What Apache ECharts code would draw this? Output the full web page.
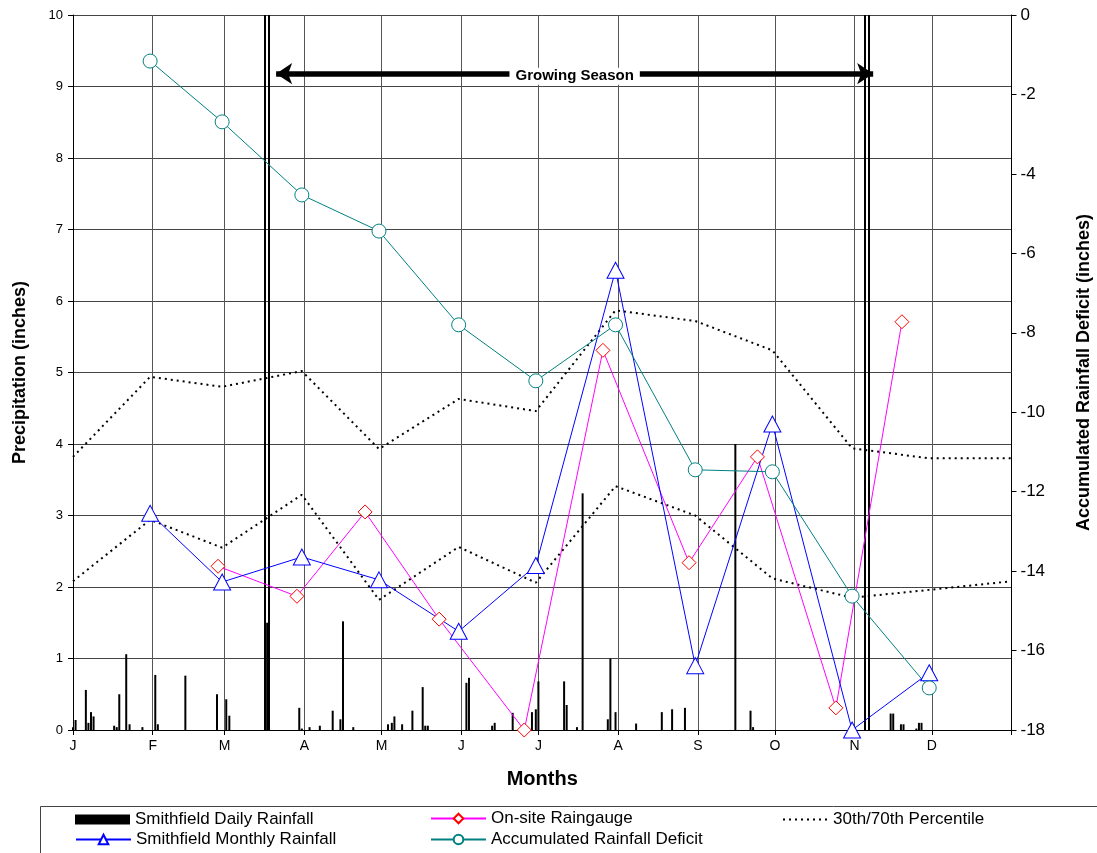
<!DOCTYPE html>
<html><head><meta charset="utf-8">
<script src="https://cdn.jsdelivr.net/npm/echarts@6/dist/echarts.min.js"></script>
<style>html,body{margin:0;padding:0;background:#fff}#c{width:1097px;height:853px}</style>
</head><body><div id="c"></div>
<script>
// ---- data ----
const monthStarts = [0,31,59,90,120,151,181,212,243,273,304,334,365];
const monthLabels = ['J','F','M','A','M','J','J','A','S','O','N','D',''];
const monthEnds = [30,58,89,119,150,180,211,242,272,303,333];
const monthlyRain = [3.03,2.07,2.42,2.1,1.38,2.3,6.43,0.9,4.28,0.0,0.8];
const deficit = [-1.16,-2.69,-4.53,-5.44,-7.8,-9.21,-7.8,-11.45,-11.5,-14.63,-16.94];
const gaugeDays = [56.4,87.1,113.6,142.4,175.5,206.1,239.6,266.2,296.7,322.4];
const gaugeVals = [2.29,1.87,3.05,1.55,0.0,5.31,2.34,3.82,0.31,5.71];
const pctDays = [0,30,58,89,119,150,180,211,242,272,303,333,365];
const p70 = [3.82,4.94,4.8,5.02,3.93,4.63,4.46,5.87,5.72,5.31,3.94,3.8,3.8];
const p30 = [2.08,2.94,2.55,3.29,1.82,2.56,2.06,3.41,3.0,2.12,1.85,1.96,2.08];
const dailyDays = [0,1,5,6,7,8,16,17,18,20.7,22,27,32,33,43.7,56,59.6,60.8,75.5,88,89,92,96,101,104,105,109,
  122.5,124,125,128,132,136,137,138,153,154,163,164,171,178.5,180,181,191,192,196,198.2,208,209,211,219,
  229,233,238,257.6,263.5,264.5,318,319,322,323,328,329,330];
const dailyVals = [0.04,0.14,0.56,0.1,0.25,0.19,0.06,0.04,0.5,1.06,0.08,0.04,0.77,0.08,0.76,0.5,0.43,0.2,1.5,0.31,0.02,0.04,0.06,0.27,0.15,1.52,0.04,
  0.08,0.1,0.19,0.08,0.27,0.6,0.06,0.06,0.66,0.73,0.06,0.1,0.24,0.25,0.29,0.68,0.68,0.35,0.04,3.31,0.15,1.0,0.25,0.09,
  0.25,0.29,0.31,4.0,0.27,0.04,0.23,0.23,0.08,0.08,0.02,0.1,0.1];
const seasonLines = [74.75,76.3,307.8,309.5];
const arrowDays = [79,311.2];
const arrowLevel = 9.18;
const arrowText = 'Growing Season';

const zip = (a,b) => a.map((v,i)=>[v,b[i]]);
const FONT = 'Liberation Sans, Arial, sans-serif';

const gridLines = monthStarts.slice(1,12).map(d => ({xAxis:d, lineStyle:{color:'#555',width:1,type:'solid'}}));
const sLines = seasonLines.map(d => ({xAxis:d, lineStyle:{color:'#000',width:2,type:'solid'}}));
const arrow = [
  {coord:[arrowDays[0],arrowLevel], symbol:'arrow', symbolSize:[16,16],
   lineStyle:{color:'#000',width:5.5,type:'solid'},
   label:{show:true, position:'middle', formatter:arrowText, fontFamily:FONT, fontWeight:'bold', fontSize:15,
          color:'#000', backgroundColor:'#fff', padding:[1,6], offset:[0,16]}},
  {coord:[arrowDays[1],arrowLevel], symbol:'arrow', symbolSize:[16,16]}
];
const dots = 'path://M0,0h2v2h-2zM6,0h2v2h-2zM12,0h2v2h-2zM18,0h2v2h-2zM24,0h2v2h-2zM30,0h2v2h-2zM36,0h2v2h-2zM42,0h2v2h-2z';

const chart = echarts.init(document.getElementById('c'), null, {renderer:'canvas'});
const legendBase = {orient:'horizontal', padding:0, itemGap:0, itemWidth:55, itemHeight:12,
  textStyle:{fontFamily:FONT, fontSize:17, color:'#000'}, selectedMode:false};
chart.setOption({
  animation:false,
  textStyle:{fontFamily:FONT},
  grid:{left:73, right:85.5, top:15, bottom:123, containLabel:false, outerBoundsMode:'none'},
  graphic:[{type:'rect', left:40, top:806, z:0, shape:{width:1080, height:60},
    style:{fill:'#fff', stroke:'#444', lineWidth:1}}],
  legend:[
    Object.assign({}, legendBase, {data:[{name:'Smithfield Daily Rainfall', icon:'rect'}], left:75, top:811, itemHeight:10}),
    Object.assign({}, legendBase, {data:['On-site Raingauge'], left:430, top:810}),
    Object.assign({}, legendBase, {data:[{name:'30th/70th Percentile', icon:dots}], left:783, top:811, itemWidth:46, itemHeight:2}),
    Object.assign({}, legendBase, {data:['Smithfield Monthly Rainfall'], left:75, top:831}),
    Object.assign({}, legendBase, {data:['Accumulated Rainfall Deficit'], left:430, top:831})
  ],
  xAxis:{type:'value', min:0, max:365,
    name:'Months', nameLocation:'middle', nameGap:39,
    nameTextStyle:{fontFamily:FONT, fontWeight:'bold', fontSize:20, color:'#000'},
    axisLine:{show:true, onZero:false, lineStyle:{color:'#000', width:1}},
    axisTick:{show:true, length:5, customValues:monthStarts, lineStyle:{color:'#000'}},
    axisLabel:{show:true, customValues:monthStarts.slice(0,12), fontSize:14, color:'#000', margin:9,
      formatter:v => monthLabels[monthStarts.indexOf(Math.round(v))] || ''},
    splitLine:{show:false}},
  yAxis:[
    {type:'value', min:0, max:10, interval:1, position:'left',
     name:'Precipitation (inches)', nameLocation:'middle', nameGap:44, nameRotate:90,
     nameTextStyle:{fontFamily:FONT, fontWeight:'bold', fontSize:18, color:'#000'},
     axisLine:{show:true, lineStyle:{color:'#000'}},
     axisTick:{show:true, length:5, lineStyle:{color:'#000'}},
     axisLabel:{fontSize:13, color:'#000', margin:10},
     splitLine:{show:true, lineStyle:{color:'#444', width:1}}},
    {type:'value', min:-18, max:0, interval:2, position:'right',
     name:'Accumulated Rainfall Deficit (inches)', nameLocation:'middle', nameGap:64, nameRotate:90,
     nameTextStyle:{fontFamily:FONT, fontWeight:'bold', fontSize:18, color:'#000'},
     axisLine:{show:true, lineStyle:{color:'#000'}},
     axisTick:{show:true, length:5, lineStyle:{color:'#000'}},
     axisLabel:{fontSize:17, color:'#000', margin:9},
     splitLine:{show:false}}
  ],
  series:[
    {name:'Smithfield Daily Rainfall', type:'bar', data:zip(dailyDays,dailyVals), barWidth:2,
     itemStyle:{color:'#000'}, z:3,
     markLine:{silent:true, symbol:['none','none'], label:{show:false}, z:1,
       data:gridLines.concat(sLines)}},
    {name:'On-site Raingauge', type:'line', data:zip(gaugeDays,gaugeVals), clip:false, z:5,
     symbol:'diamond', symbolSize:14, showAllSymbol:true,
     lineStyle:{color:'#FF00FF', width:1}, itemStyle:{color:'#fff', borderColor:'#FF0000', borderWidth:1}},
    {name:'Smithfield Monthly Rainfall', type:'line', data:zip(monthEnds,monthlyRain), clip:false, z:5,
     symbol:'triangle', symbolSize:[17,16], showAllSymbol:true,
     lineStyle:{color:'#0000FF', width:1}, itemStyle:{color:'#fff', borderColor:'#0000FF', borderWidth:1}},
    {name:'Accumulated Rainfall Deficit', type:'line', yAxisIndex:1, data:zip(monthEnds,deficit), clip:false, z:5,
     symbol:'circle', symbolSize:14, showAllSymbol:true,
     lineStyle:{color:'#008080', width:1}, itemStyle:{color:'#fff', borderColor:'#008080', borderWidth:1}},
    {name:'30th/70th Percentile', type:'line', data:zip(pctDays,p70), symbol:'none', z:4,
     lineStyle:{color:'#000', width:2, type:[2,4]}, itemStyle:{color:'#000'},
     markLine:{silent:true, symbol:['arrow','arrow'], z:6, label:{show:false}, data:[arrow]}},
    {name:'30th/70th Percentile', type:'line', data:zip(pctDays,p30), symbol:'none', z:4,
     lineStyle:{color:'#000', width:2, type:[2,4]}, itemStyle:{color:'#000'}}
  ]
});
</script></body></html>
